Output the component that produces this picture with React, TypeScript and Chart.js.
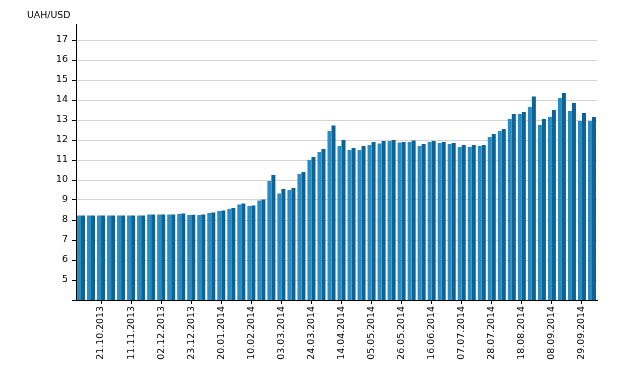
import React, { useEffect, useRef } from "react";
import { Chart, registerables } from "chart.js";

Chart.register(...registerables);

const dates: string[] = [
  "07.10.2013", "14.10.2013", "21.10.2013", "28.10.2013", "04.11.2013", "11.11.2013",
  "18.11.2013", "25.11.2013", "02.12.2013", "09.12.2013", "16.12.2013", "23.12.2013",
  "30.12.2013", "13.01.2014", "20.01.2014", "27.01.2014", "03.02.2014", "10.02.2014",
  "17.02.2014", "24.02.2014", "03.03.2014", "10.03.2014", "17.03.2014", "24.03.2014",
  "31.03.2014", "07.04.2014", "14.04.2014", "21.04.2014", "28.04.2014", "05.05.2014",
  "12.05.2014", "19.05.2014", "26.05.2014", "02.06.2014", "09.06.2014", "16.06.2014",
  "23.06.2014", "30.06.2014", "07.07.2014", "14.07.2014", "21.07.2014", "28.07.2014",
  "04.08.2014", "11.08.2014", "18.08.2014", "25.08.2014", "01.09.2014", "08.09.2014",
  "15.09.2014", "22.09.2014", "29.09.2014", "06.10.2014",
];

const buyRate: number[] = [
  8.22, 8.22, 8.22, 8.22, 8.22, 8.22, 8.22, 8.27, 8.27, 8.27, 8.3, 8.25, 8.25,
  8.35, 8.45, 8.55, 8.78, 8.7, 8.97, 9.95, 9.33, 9.5, 10.3, 11.0, 11.4, 12.45,
  11.7, 11.5, 11.5, 11.75, 11.83, 11.95, 11.87, 11.9, 11.7, 11.9, 11.85, 11.8,
  11.65, 11.65, 11.7, 12.15, 12.45, 13.05, 13.3, 13.65, 12.75, 13.15, 14.1,
  13.45, 12.95, 12.95,
];

const sellRate: number[] = [
  8.23, 8.23, 8.23, 8.23, 8.23, 8.23, 8.23, 8.28, 8.28, 8.28, 8.32, 8.26, 8.27,
  8.37, 8.47, 8.6, 8.82, 8.72, 9.02, 10.25, 9.55, 9.6, 10.4, 11.15, 11.55, 12.72,
  12.0, 11.6, 11.7, 11.9, 11.95, 12.0, 11.9, 11.97, 11.8, 11.95, 11.9, 11.85,
  11.75, 11.75, 11.75, 12.3, 12.55, 13.3, 13.4, 14.17, 13.05, 13.5, 14.35,
  13.85, 13.35, 13.15,
];

const yTickValues: number[] = [4, 5, 6, 7, 8, 9, 10, 11, 12, 13, 14, 15, 16, 17];
const unitLabel = "UAH/USD";

const FONT = "'DejaVu Sans', Verdana, sans-serif";
const FSIZE = 9.4;

export default function App() {
  const ref = useRef<HTMLCanvasElement | null>(null);

  useEffect(() => {
    if (!ref.current) return;
    const unitPlugin = {
      id: "unitLabel",
      afterDraw(chart: any) {
        const ctx = chart.ctx;
        ctx.save();
        ctx.font = `${FSIZE}px ${FONT}`;
        ctx.fillStyle = "#000";
        ctx.textAlign = "left";
        ctx.textBaseline = "middle";
        ctx.fillText(unitLabel, 27, 16);
        ctx.restore();
      },
    };
    const chart = new Chart(ref.current, {
      type: "bar",
      data: {
        labels: dates,
        datasets: [
          {
            label: "buy",
            data: buyRate,
            backgroundColor: "#2a8bc1",
            borderWidth: 0,
            categoryPercentage: 0.8,
            barPercentage: 1.0,
          },
          {
            label: "sell",
            data: sellRate,
            backgroundColor: "#0d6394",
            borderWidth: 0,
            categoryPercentage: 0.8,
            barPercentage: 1.0,
          },
        ],
      },
      options: {
        animation: false,
        responsive: false,
        maintainAspectRatio: false,
        layout: { padding: { top: 24, right: 23, bottom: 0, left: 0 } },
        plugins: {
          legend: { display: false },
          tooltip: { enabled: false },
          title: { display: false },
        },
        scales: {
          x: {
            type: "category",
            offset: true,
            afterFit: (scale: any) => {
              scale.height = 83;
            },
            grid: {
              display: true,
              offset: false,
              drawOnChartArea: false,
              drawTicks: true,
              tickLength: 4,
              tickColor: "#000",
            },
            border: { display: true, color: "#000", width: 1 },
            ticks: {
              autoSkip: false,
              maxRotation: 90,
              minRotation: 90,
              padding: 2,
              color: "#000",
              font: { family: FONT, size: FSIZE },
              callback: (_v: any, idx: number) =>
                (idx - 2) % 3 === 0 ? dates[idx] : null,
            },
          },
          y: {
            type: "linear",
            min: 4,
            max: 17.8,
            afterFit: (scale: any) => {
              scale.width = 76;
            },
            afterBuildTicks: (scale: any) => {
              scale.ticks = yTickValues.map((v) => ({ value: v }));
            },
            grid: {
              color: (ctx: any) =>
                ctx.tick && ctx.tick.value === 4 ? "rgba(0,0,0,0)" : "#d4d4d4",
              tickColor: "#000",
              tickLength: 4,
              drawTicks: true,
            },
            border: { display: true, color: "#000", width: 1 },
            ticks: {
              padding: 4,
              color: "#000",
              font: { family: FONT, size: FSIZE },
              callback: (v: any) => (v === 4 ? "" : String(v)),
            },
          },
        },
      },
      plugins: [unitPlugin],
    });
    return () => chart.destroy();
  }, []);

  return (
    <div
      style={{
        position: "absolute",
        left: 0,
        top: 0,
        width: 620,
        height: 383,
        background: "#fff",
      }}
    >
      <canvas ref={ref} width={620} height={383} style={{ width: 620, height: 383 }} />
    </div>
  );
}
